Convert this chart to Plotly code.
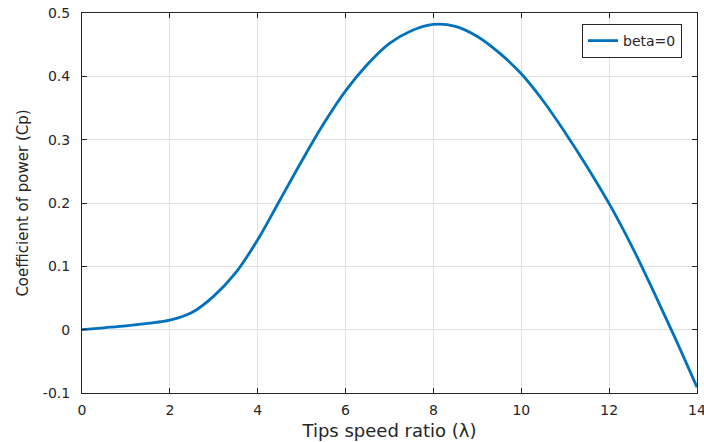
import plotly.graph_objects as go

tsr = [0, 0.5, 1, 1.5, 2, 2.5, 3, 3.5, 4, 4.5, 5, 5.5, 6, 6.5, 7, 7.5, 8,
       8.5, 9, 9.5, 10, 10.5, 11, 11.5, 12, 12.5, 13, 13.5, 14]
cp = [0.0, 0.003, 0.006, 0.010, 0.015, 0.027, 0.053, 0.090, 0.142, 0.204,
      0.266, 0.325, 0.377, 0.419, 0.452, 0.472, 0.482, 0.479, 0.463, 0.437,
      0.404, 0.361, 0.311, 0.257, 0.199, 0.134, 0.062, -0.013, -0.091]

x_ticks = [0, 2, 4, 6, 8, 10, 12, 14]
y_ticks = [-0.1, 0, 0.1, 0.2, 0.3, 0.4, 0.5]
y_labels = ["-0.1", "0", "0.1", "0.2", "0.3", "0.4", "0.5"]

axis_col = "#262626"
grid_col = "#e0e0e0"
font = "DejaVu Sans, Arial, sans-serif"

fig = go.Figure()
fig.add_trace(go.Scatter(x=tsr, y=cp, mode="lines", name="beta=0",
                         line=dict(color="#0072BD", width=2.8, shape="spline",
                                   smoothing=1.0)))

fig.update_layout(
    width=704, height=442,
    margin=dict(l=82, r=7, t=13, b=49),
    paper_bgcolor="white", plot_bgcolor="white",
    font=dict(family=font, size=14, color=axis_col),
    showlegend=True,
    legend=dict(x=0.9756, y=0.971, xanchor="right", yanchor="top",
                bordercolor=axis_col, borderwidth=1, bgcolor="white",
                font=dict(size=14, color=axis_col)),
)
fig.update_xaxes(
    range=[0, 14], tickvals=x_ticks, ticks="inside", ticklen=5,
    tickcolor=axis_col, showline=True, linecolor=axis_col, linewidth=1,
    mirror="ticks", showgrid=True, gridcolor=grid_col, gridwidth=1,
    zeroline=False, tickfont=dict(size=14, color=axis_col),
    automargin=False, ticklabelstandoff=4, ticklabeloverflow="allow",
    title=dict(text="Tips speed ratio (λ)", font=dict(size=18, color=axis_col),
               standoff=7),
)
fig.update_yaxes(
    range=[-0.1, 0.5], tickvals=y_ticks, ticktext=y_labels, ticks="inside",
    ticklen=5, tickcolor=axis_col, showline=True, linecolor=axis_col,
    linewidth=1, mirror="ticks", showgrid=True, gridcolor=grid_col,
    gridwidth=1, zeroline=False, tickfont=dict(size=14, color=axis_col),
    automargin=False, ticklabelstandoff=8, ticklabeloverflow="allow",
    title=dict(text="Coefficient of power (Cp)", font=dict(size=15, color=axis_col),
               standoff=10),
)

fig.write_html("out.html")
